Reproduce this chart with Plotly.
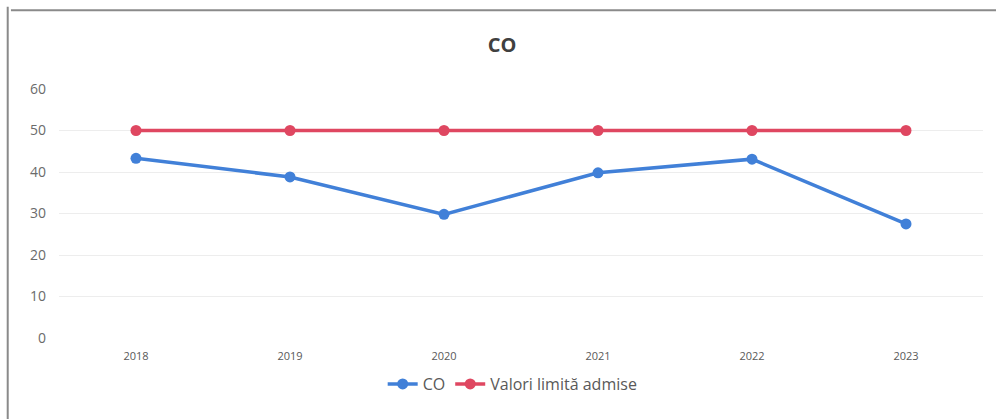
import plotly.graph_objects as go

years = ["2018", "2019", "2020", "2021", "2022", "2023"]
co_values = [43.3, 38.8, 29.8, 39.8, 43.1, 27.5]
limit_values = [50, 50, 50, 50, 50, 50]
y_ticks = [0, 10, 20, 30, 40, 50, 60]

blue = "#4180D8"
red = "#DF4761"

fig = go.Figure()
fig.add_trace(go.Scatter(x=years, y=co_values, name="CO", mode="lines+markers", legendgroup="a",
                         line=dict(color=blue, width=3.5), marker=dict(size=11, color=blue)))
fig.add_trace(go.Scatter(x=years, y=limit_values, name="Valori limită admise", mode="lines+markers",
                         legendgroup="b",
                         line=dict(color=red, width=3.5), marker=dict(size=11, color=red)))

fig.update_layout(
    width=996, height=419,
    margin=dict(l=59, r=13, t=89, b=81),
    paper_bgcolor="white", plot_bgcolor="white",
    font=dict(family="Open Sans, Liberation Sans, sans-serif", color="#595959"),
    title=dict(text="<b>CO</b>", x=0.504, xanchor="center", y=0.893, yanchor="middle",
               font=dict(size=20, color="#404040")),
    showlegend=True,
    legend=dict(orientation="h", x=0.491, xanchor="center", y=-0.185, yanchor="middle",
                font=dict(size=16, color="#595959"), tracegroupgap=20),
    xaxis=dict(type="category", range=[-0.5, 5.5], showgrid=False, zeroline=False, showline=False,
               tickfont=dict(size=11, color="#595959"), ticks="", ticklabelstandoff=10),
    yaxis=dict(range=[0, 60], tickvals=y_ticks, showgrid=True, gridcolor="#EDEDED", gridwidth=1,
               zeroline=False, showline=False, tickfont=dict(size=14, color="#6b6b6b"),
               ticklabelstandoff=12),
    shapes=[
        dict(type="line", xref="paper", yref="paper", x0=-0.052, x1=1.02, y0=1.316, y1=1.316,
             line=dict(color="#8a8a8a", width=2)),
        dict(type="line", xref="paper", yref="paper", x0=-0.0555, x1=-0.0555, y0=-0.33, y1=1.33,
             line=dict(color="#8a8a8a", width=2)),
    ],
)

fig.write_html("out.html", config={"displayModeBar": False},
               post_script="document.body.style.margin='0';document.body.style.overflow='hidden';")
